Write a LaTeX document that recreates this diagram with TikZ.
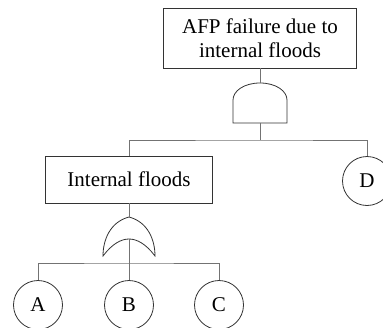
\documentclass[tikz,border=0pt]{standalone}
\usepackage{fontspec}
\setmainfont{Liberation Serif}

\tikzset{
  evbox/.style={draw=black!80, line width=0.8pt, rectangle, align=center, inner sep=0pt},
  basic/.style={draw=black!80, line width=0.8pt, circle, minimum size=49pt, inner sep=0pt},
  gatebox/.style={rectangle, inner sep=0pt, minimum width=54pt},
  gateline/.style={draw=black!80, line width=0.8pt},
  wire/.style={draw=black!55, line width=0.8pt}
}

\begin{document}
\begin{tikzpicture}[x=1pt,y=-1pt]
\useasboundingbox (0,0) rectangle (383,327);
\fontsize{21}{24}\selectfont

\node[evbox, minimum width=193pt, minimum height=60pt] (top) at (260,38) {AFP failure due to\\internal floods};

\node[gatebox, minimum height=40pt] (and1) at (260,103) {};
\draw[gateline] (233,123) -- (233,100) .. controls (233,91) and (244,83) .. (260,83)
  .. controls (276,83) and (287,91) .. (287,100) -- (287,123) -- cycle;

\coordinate (bus1) at (260,140);

\node[evbox, minimum width=167pt, minimum height=47pt] (flood) at (129,179.5) {Internal floods};
\node[basic] (d) at (367,181) {D};

\node[gatebox, minimum height=39pt] (or1) at (129,236.5) {};
\draw[gateline] (129,217) .. controls (110,222) and (103,240) .. (103,256)
  .. controls (112,244) and (121,239) .. (129,239)
  .. controls (137,239) and (146,244) .. (155,256)
  .. controls (155,240) and (148,222) .. (129,217) -- cycle;
\coordinate (orout) at (129,239);

\coordinate (bus2) at (129,263);

\node[basic] (a) at (38,305) {A};
\node[basic] (b) at (129,305) {B};
\node[basic] (c) at (219,305) {C};

\draw[wire] (top.south) -- (and1.north);
\draw[wire] (and1.south) -- (bus1);
\draw[wire] (flood.north) |- (bus1) -| (d.north);
\draw[wire] (flood.south) -- (or1.north);
\draw[wire] (orout) -- (b.north);
\draw[wire] (a.north) |- (bus2) -| (c.north);

\end{tikzpicture}
\end{document}
